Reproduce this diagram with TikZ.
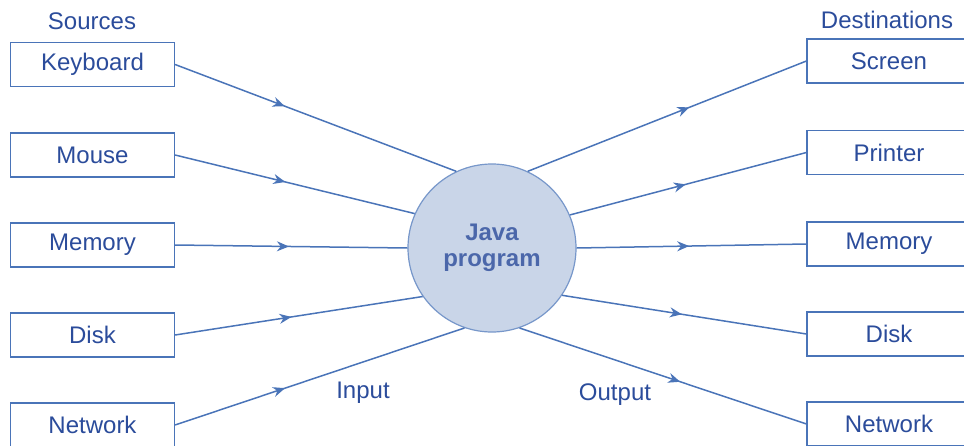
\documentclass[tikz,border=0pt]{standalone}
\usepackage{fontspec}
\setmainfont{Liberation Sans}
\usetikzlibrary{arrows.meta,decorations.markings}
\definecolor{cink}{RGB}{43,76,155}
\definecolor{cline}{RGB}{74,116,184}
\definecolor{cdisc}{RGB}{201,213,232}

\begin{document}
\begin{tikzpicture}[x=0.5pt,y=-0.5pt,font=\fontsize{12}{14}\selectfont,
  src/.style={draw=cline,line width=0.6pt,fill=white,text=cink,minimum width=82pt,minimum height=22pt,inner sep=0pt},
  prog/.style={circle,draw=cline!75,fill=cdisc,line width=0.6pt,minimum size=84pt,text=cink!85,font=\fontsize{12}{13}\selectfont\bfseries,align=center},
  lbl/.style={text=cink},
  flow/.style={cline,line width=0.75pt,postaction={decorate},
    decoration={markings,mark=at position #1 with {\arrow{Stealth[length=6pt,width=5pt]}}}},
]
\useasboundingbox (0,0) rectangle (964,445);
% sources
\node[lbl] (srchead) at (92,21) {Sources};
\node[src] (kbd) at (92.5,64.5) {Keyboard};
\node[src] (mouse) at (92.5,155) {Mouse};
\node[src] (memin) at (92.5,245) {Memory};
\node[src] (diskin) at (92.5,335) {Disk};
\node[src] (netin) at (92.5,425) {Network};
% destinations
\node[lbl] (dsthead) at (887,20) {Destinations};
\node[src] (scr) at (889,61) {Screen};
\node[src] (prn) at (889,152.5) {Printer};
\node[src] (memout) at (889,244) {Memory};
\node[src] (diskout) at (889,334) {Disk};
\node[src] (netout) at (889,424) {Network};
% program
\node[prog] (java) at (492,248) {Java\\program};
\node[lbl] (inlbl) at (363,393) {Input};
\node[lbl] (outlbl) at (615,395) {Output};
% input side
\draw[flow=0.39] (kbd.east) -- (java.115);
\draw[flow=0.46] (mouse.east) -- (java.156);
\draw[flow=0.49] (memin.east) -- (java.180);
\draw[flow=0.47] (diskin.east) -- (java.215);
\draw[flow=0.38] (netin.east) -- (java.251);
% output side
\draw[flow=0.58] (java.65) -- (scr.west);
\draw[flow=0.49] (java.23) -- (prn.west);
\draw[flow=0.49] (java.0) -- (memout.west);
\draw[flow=0.49] (java.-34) -- (diskout.west);
\draw[flow=0.56] (java.-71) -- (netout.west);
\end{tikzpicture}
\end{document}
